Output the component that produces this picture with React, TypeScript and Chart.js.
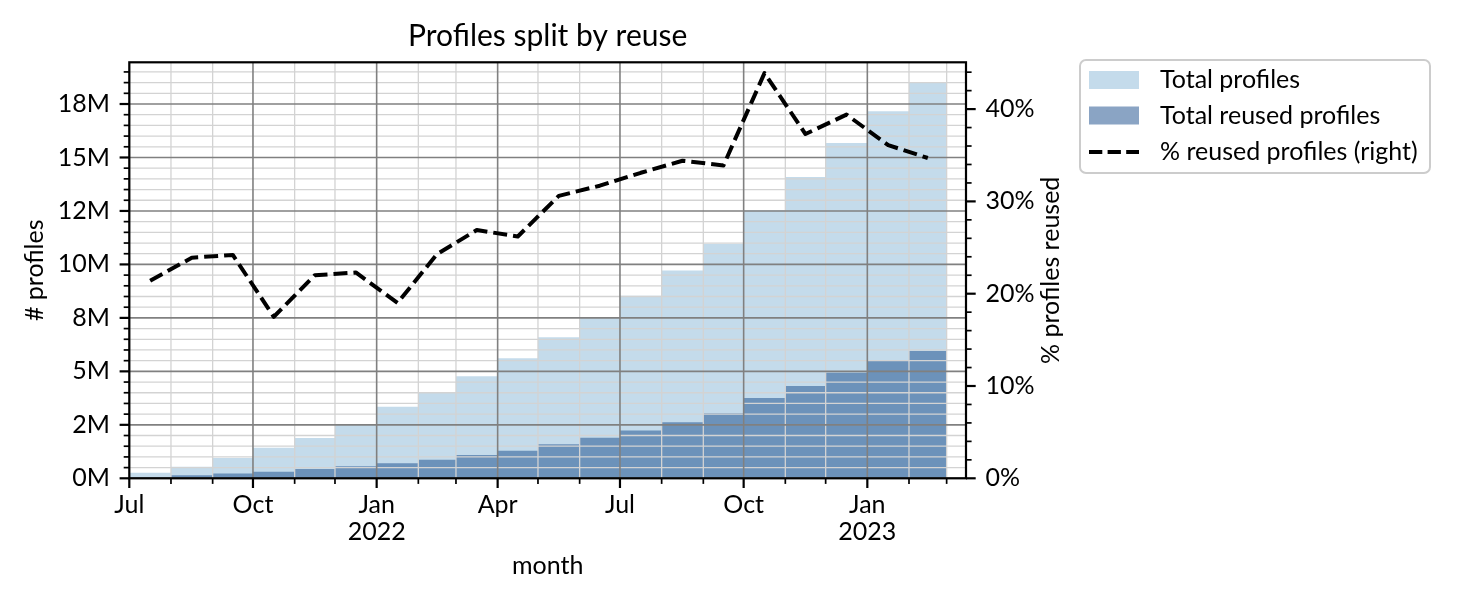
import React, { useEffect, useRef } from 'react';
import { Chart, registerables } from 'chart.js';

Chart.register(...registerables);

// ---------------- data ----------------
const months = [
  '2021-07', '2021-08', '2021-09', '2021-10', '2021-11', '2021-12',
  '2022-01', '2022-02', '2022-03', '2022-04', '2022-05', '2022-06',
  '2022-07', '2022-08', '2022-09', '2022-10', '2022-11', '2022-12',
  '2023-01', '2023-02',
];
const endMonth = '2023-03';

// millions of profiles
const totalProfilesM = [
  0.26, 0.54, 0.95, 1.43, 1.88, 2.54, 3.35, 4.0, 4.77, 5.61,
  6.59, 7.51, 8.54, 9.71, 10.95, 12.53, 14.09, 15.68, 17.16, 18.51,
];
const reusedProfilesM = [
  0.05, 0.14, 0.23, 0.31, 0.43, 0.56, 0.7, 0.87, 1.09, 1.29,
  1.59, 1.9, 2.23, 2.62, 3.04, 3.75, 4.32, 4.94, 5.48, 5.95,
];
// percent
const pctReused = [
  21.4, 23.9, 24.2, 17.5, 22.0, 22.3, 19.0, 24.3, 26.9, 26.2,
  30.6, 31.7, 33.1, 34.4, 33.9, 43.9, 37.3, 39.4, 36.1, 34.7,
];

const xMajorMonths = ['2021-07', '2021-10', '2022-01', '2022-04', '2022-07', '2022-10', '2023-01'];
const xMajorLabels = [['Jul'], ['Oct'], ['Jan', '2022'], ['Apr'], ['Jul'], ['Oct'], ['Jan', '2023']];

const leftTickValues = [0, 2.5, 5, 7.5, 10, 12.5, 15, 17.5];
const leftTickLabels = ['0M', '2M', '5M', '8M', '10M', '12M', '15M', '18M'];
const leftMinorStep = 0.5;
const leftMax = 19.45;

const rightTickValues = [0, 10, 20, 30, 40];
const rightTickLabels = ['0%', '10%', '20%', '30%', '40%'];
const rightMinorStep = 2;
const rightMax = 45.07;

const xEndDay = 622.4; // days after 2021-07-01 at right edge

// ---------------- helpers ----------------
const origin = Date.UTC(2021, 6, 1);
const dayOf = (ym: string) => {
  const [y, m] = ym.split('-').map(Number);
  return (Date.UTC(y, m - 1, 1) - origin) / 86400000;
};
const edgeMonths = [...months, endMonth];
const edges = edgeMonths.map(dayOf);

const FONT = 'Lato';
const W = 1460;
const H = 604;
const AREA = { left: 129.3, right: 966, top: 62.3, bottom: 478.3 };

const lightFill = 'rgba(137,183,215,0.5)';
const darkFill = 'rgba(21,73,137,0.5)';

const stepData = (vals: number[]) =>
  edges.map((d, i) => ({ x: d, y: vals[Math.min(i, vals.length - 1)] }));
const midData = (vals: number[]) =>
  vals.map((v, i) => ({ x: (edges[i] + edges[i + 1]) / 2, y: v }));

const decorPlugin = {
  id: 'mplDecor',
  afterDatasetDraw(chart: any, args: any) {
    if (args.index !== 1) return;
    const { ctx, chartArea: ca, scales } = chart;
    const xs = scales.x;
    const ys = scales.y;
    ctx.save();
    ctx.beginPath();
    ctx.rect(ca.left, ca.top, ca.right - ca.left, ca.bottom - ca.top);
    ctx.clip();
    // minor grid
    ctx.strokeStyle = '#d3d3d3';
    ctx.lineWidth = 1.3;
    edgeMonths.forEach((m, i) => {
      if (xMajorMonths.includes(m)) return;
      const px = xs.getPixelForValue(edges[i]);
      ctx.beginPath();
      ctx.moveTo(px, ca.top);
      ctx.lineTo(px, ca.bottom);
      ctx.stroke();
    });
    for (let v = leftMinorStep; v < leftMax; v += leftMinorStep) {
      if (leftTickValues.some((t) => Math.abs(t - v) < 1e-6)) continue;
      const py = ys.getPixelForValue(v);
      ctx.beginPath();
      ctx.moveTo(ca.left, py);
      ctx.lineTo(ca.right, py);
      ctx.stroke();
    }
    // major grid
    ctx.strokeStyle = '#808080';
    ctx.lineWidth = 1.6;
    xMajorMonths.forEach((m) => {
      const px = xs.getPixelForValue(dayOf(m));
      ctx.beginPath();
      ctx.moveTo(px, ca.top);
      ctx.lineTo(px, ca.bottom);
      ctx.stroke();
    });
    leftTickValues.forEach((v) => {
      const py = ys.getPixelForValue(v);
      ctx.beginPath();
      ctx.moveTo(ca.left, py);
      ctx.lineTo(ca.right, py);
      ctx.stroke();
    });
    ctx.restore();
  },
  afterDraw(chart: any) {
    const { ctx, chartArea: ca, scales } = chart;
    const xs = scales.x;
    const ys = scales.y;
    const y1 = scales.y1;
    ctx.save();
    ctx.strokeStyle = '#000';
    const MAJ = 9.7;
    const MIN = 5.6;
    // x ticks
    edgeMonths.forEach((m, i) => {
      const major = xMajorMonths.includes(m);
      const px = xs.getPixelForValue(edges[i]);
      ctx.lineWidth = major ? 2.2 : 1.7;
      ctx.beginPath();
      ctx.moveTo(px, ca.bottom);
      ctx.lineTo(px, ca.bottom + (major ? MAJ : MIN));
      ctx.stroke();
    });
    // left ticks
    for (let v = 0; v <= leftMax; v += leftMinorStep) {
      const major = leftTickValues.some((t) => Math.abs(t - v) < 1e-6);
      const py = ys.getPixelForValue(v);
      ctx.lineWidth = major ? 2.2 : 1.7;
      ctx.beginPath();
      ctx.moveTo(ca.left, py);
      ctx.lineTo(ca.left - (major ? MAJ : MIN), py);
      ctx.stroke();
    }
    // right ticks
    for (let v = 0; v <= rightMax; v += rightMinorStep) {
      const major = rightTickValues.some((t) => Math.abs(t - v) < 1e-6);
      const py = y1.getPixelForValue(v);
      ctx.lineWidth = major ? 2.2 : 1.7;
      ctx.beginPath();
      ctx.moveTo(ca.right, py);
      ctx.lineTo(ca.right + (major ? MAJ : MIN), py);
      ctx.stroke();
    }
    // spines
    ctx.lineWidth = 2.2;
    ctx.strokeRect(ca.left, ca.top, ca.right - ca.left, ca.bottom - ca.top);

    // texts
    ctx.fillStyle = '#000';
    const cx = (ca.left + ca.right) / 2;
    const cy = (ca.top + ca.bottom) / 2;
    ctx.font = `30px ${FONT}`;
    ctx.textAlign = 'center';
    ctx.textBaseline = 'alphabetic';
    ctx.fillText('Profiles split by reuse', cx, 45.5);

    ctx.font = `25px ${FONT}`;
    ctx.textBaseline = 'middle';
    ctx.fillText('month', cx, 566);

    ctx.save();
    ctx.translate(35, cy);
    ctx.rotate(-Math.PI / 2);
    ctx.fillText('# profiles', 0, 0);
    ctx.restore();

    ctx.save();
    ctx.translate(1051, cy);
    ctx.rotate(-Math.PI / 2);
    ctx.fillText('% profiles reused', 0, 0);
    ctx.restore();

    // legend
    const lx = 1080, ly = 60, lw = 350, lh = 113, r = 6;
    ctx.beginPath();
    ctx.moveTo(lx + r, ly);
    ctx.arcTo(lx + lw, ly, lx + lw, ly + lh, r);
    ctx.arcTo(lx + lw, ly + lh, lx, ly + lh, r);
    ctx.arcTo(lx, ly + lh, lx, ly, r);
    ctx.arcTo(lx, ly, lx + lw, ly, r);
    ctx.closePath();
    ctx.fillStyle = 'rgba(255,255,255,0.8)';
    ctx.fill();
    ctx.strokeStyle = '#cccccc';
    ctx.lineWidth = 2;
    ctx.stroke();

    const ds = chart.data.datasets;
    const rows = [
      { ds: ds[2], y: 80 },
      { ds: ds[1], y: 115.5 },
      { ds: ds[0], y: 152 },
    ];
    rows.forEach((row, i) => {
      if (i < 2) {
        ctx.fillStyle = row.ds.backgroundColor;
        ctx.fillRect(1089, row.y - 9, 50, 18);
      } else {
        ctx.save();
        ctx.strokeStyle = '#000';
        ctx.lineWidth = 4;
        ctx.setLineDash([13.3, 5.3]);
        ctx.beginPath();
        ctx.moveTo(1089, row.y);
        ctx.lineTo(1139, row.y);
        ctx.stroke();
        ctx.restore();
      }
      ctx.fillStyle = '#000';
      ctx.font = `25px ${FONT}`;
      ctx.textAlign = 'left';
      ctx.textBaseline = 'middle';
      ctx.fillText(row.ds.label, 1160, row.y);
    });
    ctx.restore();
  },
};

export default function App() {
  const ref = useRef<HTMLCanvasElement | null>(null);

  useEffect(() => {
    let chart: Chart | null = null;
    let cancelled = false;
    const make = () => {
      if (cancelled || !ref.current) return;
      const tickFont = { family: FONT, size: 25, lineHeight: 1.08 };
      chart = new Chart(ref.current, {
        type: 'line',
        data: {
          datasets: [
            {
              label: '% reused profiles (right)',
              data: midData(pctReused),
              yAxisID: 'y1',
              borderColor: '#000',
              borderWidth: 4,
              borderDash: [14, 6],
              borderCapStyle: 'butt',
              borderJoinStyle: 'round',
              pointRadius: 0,
              fill: false,
              tension: 0,
              order: 0,
            },
            {
              label: 'Total reused profiles',
              data: stepData(reusedProfilesM),
              yAxisID: 'y',
              stepped: 'before',
              fill: 'origin',
              backgroundColor: darkFill,
              borderColor: 'rgba(0,0,0,0)',
              borderWidth: 0,
              pointRadius: 0,
              order: 1,
            },
            {
              label: 'Total profiles',
              data: stepData(totalProfilesM),
              yAxisID: 'y',
              stepped: 'before',
              fill: 'origin',
              backgroundColor: lightFill,
              borderColor: 'rgba(0,0,0,0)',
              borderWidth: 0,
              pointRadius: 0,
              order: 2,
            },
          ],
        },
        options: {
          animation: false,
          responsive: false,
          layout: { padding: { top: AREA.top, left: 0, right: 0, bottom: 0 } },
          plugins: {
            legend: { display: false },
            tooltip: { enabled: false },
            title: { display: false },
          },
          scales: {
            x: {
              type: 'linear',
              position: 'bottom',
              min: 0,
              max: xEndDay,
              afterBuildTicks: (s: any) => {
                s.ticks = edges.map((v) => ({ value: v }));
              },
              afterFit: (s: any) => {
                s.height = H - AREA.bottom;
              },
              ticks: {
                autoSkip: false,
                maxRotation: 0,
                minRotation: 0,
                padding: 13.5,
                color: '#000',
                font: tickFont,
                callback: (_v: any, i: number) => {
                  const k = xMajorMonths.indexOf(edgeMonths[i]);
                  return k >= 0 ? xMajorLabels[k] : '';
                },
              },
              grid: { display: false, drawTicks: true, tickLength: 0 },
              border: { display: false },
            },
            y: {
              type: 'linear',
              position: 'left',
              min: 0,
              max: leftMax,
              afterBuildTicks: (s: any) => {
                s.ticks = leftTickValues.map((v) => ({ value: v }));
              },
              afterFit: (s: any) => {
                s.width = AREA.left;
              },
              ticks: {
                padding: 19.4,
                color: '#000',
                font: tickFont,
                callback: (_v: any, i: number) => leftTickLabels[i],
              },
              grid: { display: false, drawTicks: true, tickLength: 0 },
              border: { display: false },
            },
            y1: {
              type: 'linear',
              position: 'right',
              min: 0,
              max: rightMax,
              afterBuildTicks: (s: any) => {
                s.ticks = rightTickValues.map((v) => ({ value: v }));
              },
              afterFit: (s: any) => {
                s.width = W - AREA.right;
              },
              ticks: {
                padding: 19.4,
                color: '#000',
                font: tickFont,
                callback: (_v: any, i: number) => rightTickLabels[i],
              },
              grid: { display: false, drawTicks: true, tickLength: 0 },
              border: { display: false },
            },
          },
        },
        plugins: [decorPlugin],
      } as any);
    };
    const fonts: any = (document as any).fonts;
    if (fonts && fonts.load) {
      Promise.all([fonts.load(`25px ${FONT}`), fonts.load(`30px ${FONT}`)])
        .catch(() => null)
        .then(make);
    } else {
      make();
    }
    return () => {
      cancelled = true;
      if (chart) chart.destroy();
    };
  }, []);

  return (
    <div style={{ position: 'absolute', left: 0, top: 0, width: W, height: H, background: '#fff' }}>
      <canvas ref={ref} width={W} height={H} style={{ width: W, height: H, display: 'block' }} />
    </div>
  );
}
